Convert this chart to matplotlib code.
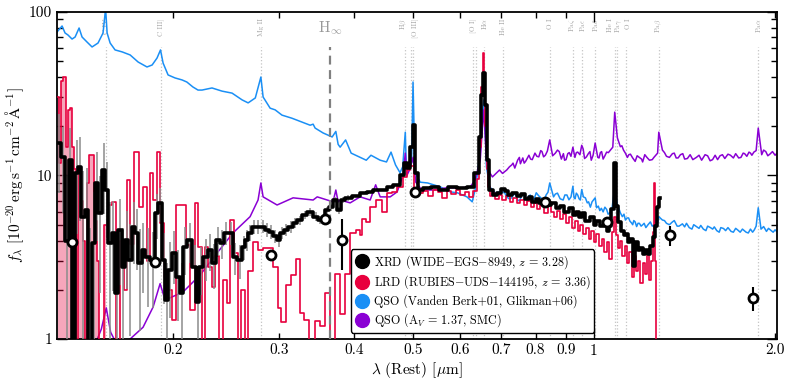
import numpy as np
import matplotlib
matplotlib.use('Agg')
import matplotlib.pyplot as plt
from matplotlib.lines import Line2D
from matplotlib.ticker import FixedLocator, FixedFormatter, NullFormatter, LogLocator

plt.rcParams['font.family'] = 'cmr10'
plt.rcParams['mathtext.fontset'] = 'cm'
plt.rcParams['axes.unicode_minus'] = False
plt.rcParams['axes.formatter.use_mathtext'] = True

# colours
c_xrd = 'black'
c_lrd = '#e8003d'
c_qso = '#1a8ff5'
c_red = '#8a00d4'

# QSO composite (Vanden Berk+01, Glikman+06)
qso_lam = [0.1283, 0.1308, 0.1323, 0.1338, 0.1359, 0.1375, 0.1396, 0.1412, 0.1439, 0.1467,
           0.1501, 0.1530, 0.1545, 0.1554, 0.1572, 0.1602, 0.1646, 0.1697, 0.1750, 0.1810,
           0.1846, 0.1881, 0.1906, 0.1925, 0.1962, 0.2015, 0.2070, 0.2108, 0.2157, 0.2200,
           0.2234, 0.2321, 0.2412, 0.2506, 0.2604, 0.2665, 0.2739, 0.2798, 0.2822, 0.2899,
           0.2955, 0.3033, 0.3151, 0.3274, 0.3378, 0.3417, 0.3443, 0.3550, 0.3675, 0.3727,
           0.3760, 0.3789, 0.3869, 0.3952, 0.4090, 0.4187, 0.4263, 0.4416, 0.4524, 0.4603,
           0.4683, 0.4764, 0.4813, 0.4861, 0.4880, 0.4930, 0.4959, 0.4980, 0.5007, 0.5045,
           0.5147, 0.5295, 0.5556, 0.5773, 0.5930, 0.6154, 0.6279, 0.6365, 0.6475, 0.6536,
           0.6563, 0.6602, 0.6630, 0.6715, 0.6850, 0.7011, 0.7165, 0.7303, 0.7420, 0.7536,
           0.7650, 0.7775, 0.7900, 0.8021, 0.8200, 0.8330, 0.8446, 0.8570, 0.8700, 0.8891,
           0.9020, 0.9163, 0.9229, 0.9306, 0.9400, 0.9495, 0.9546, 0.9606, 0.9750, 0.9866,
           1.0049, 1.0102, 1.0230, 1.0360, 1.0500, 1.0625, 1.0720, 1.0830, 1.0938, 1.1066,
           1.1150, 1.1281, 1.1420, 1.1547, 1.1650, 1.1776, 1.1900, 1.2056, 1.2200, 1.2413,
           1.2600, 1.2760, 1.2818, 1.2997, 1.3200, 1.3504, 1.3750, 1.4031, 1.4400, 1.4800,
           1.5200, 1.5618, 1.6000, 1.6421, 1.6900, 1.7338, 1.7900, 1.8465, 1.8751, 1.9142,
           1.9651, 2.0150]
qso_f = [75.4, 82.1, 74.4, 72.3, 68.3, 70.3, 79.8, 70.3, 65.5, 61.1,
         64.6, 74.4, 105.0, 74.4, 64.6, 58.6, 57.0, 54.6, 49.4, 46.1,
         47.4, 52.3, 58.6, 48.7, 41.2, 39.5, 38.4, 37.3, 34.8, 33.3,
         33.3, 34.3, 32.8, 31.9, 29.0, 27.8, 29.8, 40.0, 30.2, 25.8,
         25.2, 23.4, 22.4, 21.2, 20.3, 20.6, 19.5, 18.2, 17.2, 18.6,
         15.5, 14.9, 16.5, 13.7, 12.9, 12.4, 13.3, 12.4, 12.1, 13.9,
         11.6, 10.4, 11.3, 18.4, 11.3, 11.3, 14.0, 12.0, 37.3, 10.4,
         9.1, 9.0, 8.52, 7.94, 7.84, 7.4, 6.9, 8.52, 14.3, 25.2,
         29.0, 18.2, 11.3, 8.52, 7.84, 7.94, 7.4, 7.3, 7.6, 7.08,
         7.5, 7.4, 7.0, 7.84, 7.2, 7.6, 9.0, 7.4, 7.8, 7.08,
         7.6, 7.4, 8.6, 7.2, 7.6, 7.08, 8.2, 7.4, 6.8, 6.4,
         7.3, 6.35, 6.1, 5.99, 6.2, 5.91, 6.3, 8.52, 6.6, 5.91,
         5.6, 5.34, 5.5, 5.13, 5.3, 4.87, 5.1, 5.0, 4.8, 5.2,
         5.0, 5.13, 5.6, 5.34, 5.1, 5.2, 4.9, 5.06, 4.8, 4.87,
         4.7, 4.8, 4.6, 4.74, 4.55, 4.64, 4.5, 4.64, 6.35, 4.87,
         4.64, 4.52]
# extra near-IR pixels of the noisy QSO composite
qso_lam_ir = [0.7100, 0.7230, 0.7360, 0.7480, 0.7600, 0.7720, 0.7840, 0.7960, 0.8100, 0.8260,
              0.8390, 0.8630, 0.8790, 0.8950, 0.9090, 0.9270, 0.9350, 0.9450, 0.9680, 0.9800,
              0.9930, 1.0170, 1.0290, 1.0430, 1.0560, 1.0680, 1.1000, 1.1220, 1.1350, 1.1480,
              1.1600, 1.1710, 1.1840, 1.1980, 1.2120, 1.2300, 1.2500, 1.2680, 1.3100, 1.3350,
              1.3600, 1.3850, 1.4150, 1.4250, 1.4550, 1.4650, 1.4950, 1.5050, 1.5350, 1.5450,
              1.5750, 1.5850, 1.6150, 1.6250, 1.6550, 1.6700, 1.7050, 1.7200, 1.7500, 1.7650,
              1.8050, 1.8200, 1.8350, 1.8600, 1.8950, 1.9350, 1.9500, 1.9850, 2.0000]
qso_f_ir = [7.9, 7.2, 7.7, 7.0, 7.7, 7.1, 7.6, 7.2, 7.5, 7.0,
            7.9, 7.7, 7.2, 7.6, 7.1, 7.3, 7.8, 7.2, 7.3, 6.9,
            6.9, 6.5, 6.3, 6.4, 5.8, 6.0, 6.3, 5.8, 5.5, 5.25,
            5.0, 5.2, 5.1, 4.9, 5.1, 5.0, 4.9, 5.3, 5.3, 5.0,
            5.3, 4.9, 4.85, 5.1, 4.7, 5.0, 4.75, 4.95, 4.6, 4.9,
            4.7, 4.85, 4.5, 4.8, 4.6, 4.8, 4.5, 4.75, 4.5, 4.7,
            4.45, 4.7, 4.5, 4.9, 4.7, 4.55, 4.75, 4.5, 4.65]

# reddened QSO (A_V = 1.37, SMC)
red_lam = [0.1283, 0.1400, 0.1480, 0.1520, 0.1549, 0.1575, 0.1620, 0.1670, 0.1697, 0.1783,
           0.1853, 0.1903, 0.1940, 0.2078, 0.2217, 0.2367, 0.2516, 0.2685, 0.2768, 0.2798,
           0.2822, 0.2977, 0.3165, 0.3417, 0.3471, 0.3688, 0.3727, 0.3760, 0.3789, 0.3937,
           0.4090, 0.4250, 0.4340, 0.4416, 0.4588, 0.4712, 0.4820, 0.4861, 0.4890, 0.4940,
           0.5007, 0.5060, 0.5180, 0.5420, 0.5684, 0.5998, 0.6232, 0.6350, 0.6475, 0.6530,
           0.6563, 0.6630, 0.6715, 0.6784, 0.6970, 0.7165, 0.7303, 0.7390, 0.7470, 0.7550,
           0.7620, 0.7702, 0.7800, 0.7900, 0.7982, 0.8100, 0.8200, 0.8306, 0.8446, 0.8630,
           0.8700, 0.8830, 0.8900, 0.8990, 0.9100, 0.9229, 0.9300, 0.9400, 0.9546, 0.9650,
           0.9790, 0.9900, 1.0049, 1.0150, 1.0251, 1.0360, 1.0500, 1.0651, 1.0750, 1.0830,
           1.0940, 1.1066, 1.1200, 1.1368, 1.1500, 1.1710, 1.1900, 1.2050, 1.2250, 1.2500,
           1.2650, 1.2760, 1.2818, 1.2997, 1.3200, 1.3504, 1.3700, 1.3924, 1.4300, 1.4800,
           1.5300, 1.5744, 1.6200, 1.6861, 1.7400, 1.7800, 1.8203, 1.8440, 1.8751, 1.9142,
           1.9600, 2.0150]
red_f = [0.55, 0.7, 0.9, 1.15, 1.55, 1.1, 0.9, 0.95, 1.0, 1.18,
         1.57, 2.18, 1.73, 1.94, 2.46, 3.36, 4.46, 5.6, 7.08, 9.0,
         7.4, 6.6, 7.3, 7.08, 7.4, 6.9, 8.15, 6.9, 7.08, 6.8,
         7.4, 7.08, 8.77, 7.4, 7.4, 7.94, 10.0, 13.7, 10.0, 10.8,
         12.9, 9.1, 8.15, 8.15, 8.4, 8.4, 8.52, 9.4, 12.4, 19.8,
         25.2, 12.4, 10.4, 9.8, 10.8, 10.8, 11.6, 11.1, 12.4, 11.8,
         12.8, 12.2, 13.3, 12.5, 13.7, 13.0, 14.0, 13.3, 16.5, 13.7,
         14.3, 12.6, 13.6, 12.5, 13.8, 14.9, 12.9, 13.9, 15.3, 12.7,
         13.6, 12.4, 15.8, 12.9, 13.8, 12.6, 13.9, 14.3, 14.9, 24.4,
         17.0, 15.0, 14.3, 12.9, 13.5, 12.2, 12.9, 12.1, 12.9, 12.5,
         13.2, 13.7, 18.4, 14.3, 13.1, 13.6, 12.8, 13.4, 12.7, 12.9,
         13.4, 12.5, 13.2, 13.3, 12.8, 13.6, 13.7, 13.9, 19.5, 14.3,
         13.5, 13.7]
red_lam_ir = [0.7050, 0.7240, 0.7340, 0.7520, 0.7660, 0.7850, 0.8040, 0.8160, 0.8250, 0.8370,
              0.8540, 0.8760, 0.8940, 0.9050, 0.9160, 0.9350, 0.9480, 0.9600, 0.9720, 0.9850,
              0.9970, 1.0100, 1.0200, 1.0300, 1.0430, 1.0570, 1.1130, 1.1280, 1.1430, 1.1600,
              1.1800, 1.2000, 1.2150, 1.2370, 1.2580, 1.3100, 1.3350, 1.3600, 1.3800, 1.4050,
              1.4150, 1.4450, 1.4600, 1.4950, 1.5100, 1.5450, 1.5600, 1.5900, 1.6050, 1.6350,
              1.6500, 1.6700, 1.7050, 1.7200, 1.7550, 1.7700, 1.7950, 1.8100, 1.8300, 1.8600,
              1.9000, 1.9300, 1.9450, 1.9800, 2.0000]
red_f_ir = [10.3, 11.3, 11.9, 12.9, 11.9, 12.6, 13.1, 14.2, 13.0, 14.1,
            13.2, 14.0, 12.4, 13.6, 13.1, 13.8, 13.4, 14.5, 13.0, 14.0,
            13.3, 14.2, 12.8, 14.0, 13.2, 13.8, 15.2, 13.7, 13.4, 12.8,
            13.2, 12.6, 13.4, 12.4, 12.9, 13.8, 12.9, 13.7, 12.8, 13.6,
            12.6, 13.4, 12.5, 13.3, 12.4, 13.2, 12.3, 13.3, 12.5, 13.4,
            12.7, 13.5, 12.8, 13.6, 12.9, 13.7, 13.1, 13.9, 13.3, 14.2,
            13.4, 14.0, 13.2, 14.0, 13.3]

# LRD (RUBIES-UDS-144195)
lrd_lam = [0.1288, 0.1298, 0.1308, 0.1321, 0.1333, 0.1343, 0.1354, 0.1364, 0.1375, 0.1385,
           0.1399, 0.1410, 0.1420, 0.1434, 0.1445, 0.1458, 0.1472, 0.1486, 0.1500, 0.1514,
           0.1528, 0.1547, 0.1572, 0.1596, 0.1620, 0.1646, 0.1671, 0.1687, 0.1709, 0.1739,
           0.1766, 0.1796, 0.1819, 0.1838, 0.1867, 0.1891, 0.1920, 0.1947, 0.1977, 0.2004,
           0.2039, 0.2078, 0.2117, 0.2157, 0.2188, 0.2217, 0.2245, 0.2273, 0.2304, 0.2332,
           0.2369, 0.2406, 0.2437, 0.2471, 0.2506, 0.2545, 0.2575, 0.2614, 0.2645, 0.2690,
           0.2739, 0.2790, 0.2842, 0.2899, 0.2960, 0.3007, 0.3048, 0.3110, 0.3170, 0.3222,
           0.3275, 0.3329, 0.3397, 0.3481, 0.3539, 0.3611, 0.3677, 0.3753, 0.3818, 0.3890,
           0.3983, 0.4061, 0.4100, 0.4145, 0.4206, 0.4302, 0.4400, 0.4491, 0.4579, 0.4664,
           0.4766, 0.4861, 0.4917, 0.4990, 0.5060, 0.5150, 0.5250, 0.5350, 0.5450, 0.5550,
           0.5650, 0.5750, 0.5850, 0.5950, 0.6050, 0.6150, 0.6250, 0.6350, 0.6420, 0.6480,
           0.6520, 0.6555, 0.6590, 0.6620, 0.6660, 0.6700, 0.6750, 0.6800, 0.6900, 0.7000,
           0.7100, 0.7200, 0.7300, 0.7400, 0.7500, 0.7600, 0.7700, 0.7800, 0.7900, 0.8000,
           0.8100, 0.8200, 0.8300, 0.8450, 0.8550, 0.8650, 0.8750, 0.8850, 0.8950, 0.9050,
           0.9150, 0.9250, 0.9350, 0.9450, 0.9550, 0.9650, 0.9750, 0.9850, 0.9950, 1.0050,
           1.0150, 1.0250, 1.0350, 1.0450, 1.0550, 1.0650, 1.0750, 1.0830, 1.0920, 1.1000,
           1.1100, 1.1200, 1.1300, 1.1400, 1.1500, 1.1600, 1.1700, 1.1800, 1.1900, 1.2000,
           1.2100, 1.2200, 1.2300, 1.2400, 1.2500, 1.2550, 1.2620, 1.2660, 1.2700]
lrd_f = [30.0, 12.0, 38.0, 40.0, 15.0, 25.0, 26.0, 15.0, 11.0, 0.8,
         10.8, 7.0, 4.0, 0.8, 9.0, 13.3, 13.3, 5.3, 3.0, 0.8,
         0.8, 5.0, 6.6, 6.9, 0.8, 4.0, 2.0, 9.4, 3.8, 13.9,
         6.4, 8.5, 3.0, 10.4, 7.08, 13.9, 5.1, 2.4, 2.0, 1.3,
         6.6, 6.6, 3.75, 1.5, 6.8, 3.65, 0.8, 3.65, 2.76, 2.07,
         3.2, 0.8, 2.29, 1.65, 5.34, 3.36, 0.8, 2.0, 0.8, 2.6,
         3.9, 3.5, 3.6, 3.6, 2.76, 1.55, 1.27, 2.13, 2.46, 3.1,
         1.44, 1.31, 0.8, 1.28, 1.2, 1.9, 0.8, 2.5, 1.43, 2.5,
         4.46, 4.64, 4.3, 5.4, 5.2, 6.4, 7.08, 5.99, 7.84, 7.94,
         8.5, 9.8, 10.8, 11.5, 8.0, 7.84, 8.0, 7.5, 8.1, 7.9,
         7.3, 8.0, 7.7, 8.2, 7.6, 7.9, 7.4, 8.0, 9.5, 15.0,
         35.0, 56.0, 40.0, 20.0, 11.0, 8.5, 7.5, 7.8, 7.2, 7.6,
         7.1, 7.5, 6.9, 7.3, 6.8, 7.1, 6.6, 7.0, 6.4, 6.8,
         6.2, 6.6, 5.9, 6.9, 6.0, 5.6, 6.1, 5.4, 5.8, 5.1,
         5.6, 4.8, 5.3, 4.6, 5.0, 4.4, 4.8, 4.1, 4.6, 3.9,
         4.4, 3.7, 4.1, 3.4, 3.9, 3.1, 4.5, 5.6, 4.3, 3.6,
         4.0, 3.2, 3.7, 2.9, 3.4, 2.4, 3.2, 2.6, 3.0, 2.2,
         2.9, 2.5, 3.3, 2.3, 3.0, 4.5, 9.0, 3.0, 0.5]

# XRD (WIDE-EGS-8949) binned spectrum
xrd_lam = [0.1295, 0.1315, 0.1333, 0.1349, 0.1367, 0.1383, 0.1401, 0.1415, 0.1437, 0.1456,
           0.1476, 0.1493, 0.1513, 0.1533, 0.1551, 0.1572, 0.1590, 0.1611, 0.1633, 0.1652,
           0.1674, 0.1697, 0.1720, 0.1739, 0.1763, 0.1783, 0.1814, 0.1849, 0.1878, 0.1903,
           0.1929, 0.1951, 0.1977, 0.2004, 0.2039, 0.2066, 0.2094, 0.2130, 0.2171, 0.2196,
           0.2226, 0.2265, 0.2304, 0.2340, 0.2376, 0.2413, 0.2449, 0.2492, 0.2535, 0.2580,
           0.2619, 0.2650, 0.2685, 0.2721, 0.2763, 0.2817, 0.2860, 0.2904, 0.2955, 0.2995,
           0.3029, 0.3076, 0.3135, 0.3190, 0.3245, 0.3308, 0.3378, 0.3450, 0.3510, 0.3557,
           0.3598, 0.3653, 0.3716, 0.3767, 0.3825, 0.3899, 0.4036, 0.4145, 0.4249, 0.4356,
           0.4475, 0.4588, 0.4702, 0.4812, 0.4867, 0.4924, 0.4975, 0.5020, 0.5076, 0.5134,
           0.5264, 0.5448, 0.5628, 0.5814, 0.6040, 0.6253, 0.6410, 0.6475, 0.6520, 0.6565,
           0.6610, 0.6660, 0.6730, 0.6850, 0.6960, 0.7060, 0.7162, 0.7250, 0.7399, 0.7500,
           0.7620, 0.7731, 0.7850, 0.7950, 0.8050, 0.8140, 0.8250, 0.8400, 0.8571, 0.8700,
           0.8850, 0.9007, 0.9150, 0.9300, 0.9400, 0.9489, 0.9600, 0.9750, 0.9932, 1.0050,
           1.0150, 1.0319, 1.0450, 1.0550, 1.0639, 1.0750, 1.0830, 1.0920, 1.1054, 1.1150,
           1.1250, 1.1356, 1.1450, 1.1550, 1.1650, 1.1800, 1.1900, 1.2000, 1.2100, 1.2258,
           1.2350, 1.2450, 1.2580, 1.2687, 1.2800, 1.2884]
xrd_f = [15.8, 12.9, 4.0, 12.4, 0.8, 10.4, 11.3, 5.6, 6.15, 0.8,
         3.87, 9.0, 5.91, 10.8, 8.15, 3.87, 4.46, 1.91, 4.64, 2.76,
         4.03, 3.04, 4.87, 4.46, 2.92, 3.5, 3.17, 3.04, 5.91, 6.79,
         3.04, 1.73, 2.64, 3.36, 2.39, 1.91, 3.65, 4.03, 2.76, 1.68,
         2.76, 3.17, 3.5, 2.92, 4.03, 3.87, 4.46, 4.46, 3.17, 3.04,
         3.65, 4.03, 4.46, 4.87, 4.87, 4.87, 4.64, 4.52, 4.24, 4.03,
         4.46, 4.64, 4.87, 5.13, 5.34, 5.75, 5.99, 5.6, 5.34, 5.5,
         6.15, 6.4, 7.08, 6.15, 7.08, 7.3, 7.49, 7.84, 7.94, 8.15,
         8.15, 8.52, 8.77, 10.07, 11.9, 11.1, 14.9, 20.3, 10.4, 8.15,
         8.39, 8.52, 8.15, 8.52, 8.39, 8.52, 10.4, 17.2, 31.1, 42.4,
         27.0, 12.4, 8.15, 7.6, 7.84, 8.3, 8.0, 7.6, 7.84, 7.5,
         7.7, 7.2, 7.4, 6.9, 7.2, 6.8, 7.0, 6.6, 6.8, 6.3,
         6.5, 6.0, 6.3, 5.7, 6.0, 5.6, 5.9, 5.3, 5.6, 5.0,
         5.3, 4.9, 5.1, 4.6, 4.9, 6.2, 11.9, 6.5, 5.2, 4.6,
         4.3, 4.4, 3.9, 4.1, 2.8, 3.9, 3.5, 3.6, 3.3, 3.5,
         3.3, 3.7, 4.2, 4.9, 6.4, 7.3]
# 1-sigma errors of the first (blue) bins
xrd_err = [8, 7, 6, 7, 5, 6, 6, 5, 5, 4, 4, 5, 4, 5, 4, 3,
           2.5, 2, 2.5, 2, 2, 2, 2, 1.8, 1.8, 1.6, 1.6, 1.5, 1.8, 1.6, 1.4, 1.2, 1.3,
           1.2, 1.1, 1.0, 1.2, 1.1, 1.0, 0.9, 0.9, 0.9, 0.9, 0.9, 0.8, 0.8, 0.7, 0.7, 0.7, 0.7, 0.6, 0.6,
           0.5, 0.5, 0.5, 0.45, 0.45, 0.45, 0.4, 0.4, 0.4, 0.4, 0.4, 0.35, 0.35, 0.35, 0.35, 0.35,
           0.3, 0.3, 0.3, 0.3, 0.3, 0.3, 0.3, 0.3]

# XRD photometry
phot_lam = [0.1359, 0.1867, 0.2910, 0.3577, 0.3817, 0.5046, 0.8300, 1.0520, 1.3380, 1.8390]
phot_f = [3.9, 2.97, 3.26, 5.45, 4.03, 7.94, 6.9, 5.2, 4.3, 1.78]
phot_err = [0.3, 0.2, 0.2, 0.3, 1.4, 0.4, 0.3, 0.3, 0.58, 0.3]

# emission lines: line wavelength, label, label position
line_lam = [0.1549, 0.1909, 0.2798, 0.4861, 0.4959, 0.5007, 0.6300, 0.6364, 0.6563, 0.7065,
            0.8446, 0.9229, 0.9546, 1.0049, 1.0830, 1.0938, 1.1287, 1.2818, 1.8751]
lbl_text = ['C IV', 'C III]', 'Mg II', r'H$\beta$', '[O III]', '[O I]', r'H$\alpha$', 'He II', 'O I',
            r'Pa$\zeta$', r'Pa$\epsilon$', r'Pa$\delta$', 'He I', r'Pa$\gamma$', 'O I',
            r'Pa$\beta$', r'Pa$\alpha$']
lbl_lam = [0.1549, 0.1909, 0.2798, 0.4830, 0.5030, 0.6280, 0.6590, 0.7065, 0.8446,
           0.9200, 0.9570, 1.0049, 1.0630, 1.1010, 1.1400, 1.2818, 1.8751]
h_inf = 0.3646


def merged(lam_a, f_a, lam_b, f_b):
    lam = np.array(lam_a + lam_b)
    f = np.array(f_a + f_b)
    o = np.argsort(lam)
    return lam[o], f[o]


fig = plt.figure(figsize=(7.93, 3.84), dpi=100)
ax = fig.add_axes([0.0719, 0.1172, 0.908, 0.8516])
ax.set_xscale('log')
ax.set_yscale('log')

# line markers
for l in line_lam:
    ax.axvline(l, ymin=0, ymax=0.893, ls=':', color='#c4c4c4', lw=0.9, zorder=0.5)
for t, l in zip(lbl_text, lbl_lam):
    ax.text(l, 0.98, t, transform=ax.get_xaxis_transform(), rotation=90, ha='center', va='top',
            fontsize=5.2, color='#a0a0a0', zorder=0.6)
ax.axvline(h_inf, ymin=0, ymax=0.893, ls=(0, (4, 2.5)), color='#808080', lw=1.6, zorder=5)
ax.text(h_inf, 0.95, r'H$_\infty$', transform=ax.get_xaxis_transform(), ha='center', va='center',
        fontsize=11, color='#999999')

# spectra
ql, qf = merged(qso_lam, qso_f, qso_lam_ir, qso_f_ir)
ax.plot(ql, qf, color=c_qso, lw=1.1, zorder=2)
rl, rf = merged(red_lam, red_f, red_lam_ir, red_f_ir)
ax.plot(rl, rf, color=c_red, lw=1.1, zorder=2)
n_fill = 22
ax.fill_between(lrd_lam[:n_fill], 0.5, lrd_f[:n_fill], step='mid', color=c_lrd, alpha=0.35, lw=0, zorder=2)
ax.plot(lrd_lam, lrd_f, color=c_lrd, lw=1.2, drawstyle='steps-mid', zorder=3)

xe = np.array(xrd_lam[:len(xrd_err)])
fe = np.array(xrd_f[:len(xrd_err)])
ee = np.array(xrd_err)
ax.vlines(xe, np.maximum(fe - ee, 0.5), fe + ee, color='#8c8c8c', lw=1.1, zorder=3.5)
ax.plot(xrd_lam, xrd_f, color=c_xrd, lw=2.6, drawstyle='steps-mid', zorder=4)

ax.errorbar(phot_lam, phot_f, yerr=phot_err, fmt='o', ms=6.5, mfc='white', mec='black', mew=2,
            ecolor='black', elinewidth=1.5, capsize=0, zorder=6)

ax.set_xlim(0.1283, 2.015)
ax.set_ylim(1, 100)

# ticks
ax.xaxis.set_major_locator(FixedLocator([1.0]))
ax.xaxis.set_major_formatter(FixedFormatter(['1']))
ax.xaxis.set_minor_locator(FixedLocator([0.2, 0.3, 0.4, 0.5, 0.6, 0.7, 0.8, 0.9, 2.0]))
ax.xaxis.set_minor_formatter(FixedFormatter(['0.2', '0.3', '0.4', '0.5', '0.6', '0.7', '0.8', '0.9', '2.0']))
ax.yaxis.set_major_locator(FixedLocator([1, 10, 100]))
ax.yaxis.set_major_formatter(FixedFormatter(['1', '10', '100']))
ax.yaxis.set_minor_locator(LogLocator(base=10, subs=np.arange(2, 10)))
ax.yaxis.set_minor_formatter(NullFormatter())
ax.tick_params(which='both', direction='in', top=True, right=True, labelsize=11, width=1)
ax.tick_params(which='major', length=7)
ax.tick_params(which='minor', length=4)
for s in ax.spines.values():
    s.set_linewidth(1.3)

ax.set_xlabel(r'$\lambda$ (Rest) [$\mu$m]', fontsize=11, labelpad=2)
ax.set_ylabel(r'$f_\lambda\ [10^{-20}\,\mathrm{erg\,s^{-1}\,cm^{-2}\,\AA^{-1}}]$', fontsize=11, labelpad=2)

handles = [Line2D([], [], marker='o', ls='none', color=c, ms=10) for c in [c_xrd, c_lrd, c_qso, c_red]]
labels = [r'XRD (WIDE$-$EGS$-$8949, $z$ = 3.28)',
          r'LRD (RUBIES$-$UDS$-$144195, $z$ = 3.36)',
          'QSO (Vanden Berk+01, Glikman+06)',
          r'QSO (A$_V$ = 1.37, SMC)']
leg = ax.legend(handles, labels, loc='lower left', bbox_to_anchor=(0.405, 0.012), fontsize=8.7,
                frameon=True, fancybox=True, edgecolor='black', framealpha=1, handletextpad=0.3,
                borderpad=0.28, labelspacing=0.26, handlelength=1.3, borderaxespad=0.2)
leg.get_frame().set_linewidth(1.0)
leg.set_zorder(10)

fig.savefig('out.png', dpi=100)
